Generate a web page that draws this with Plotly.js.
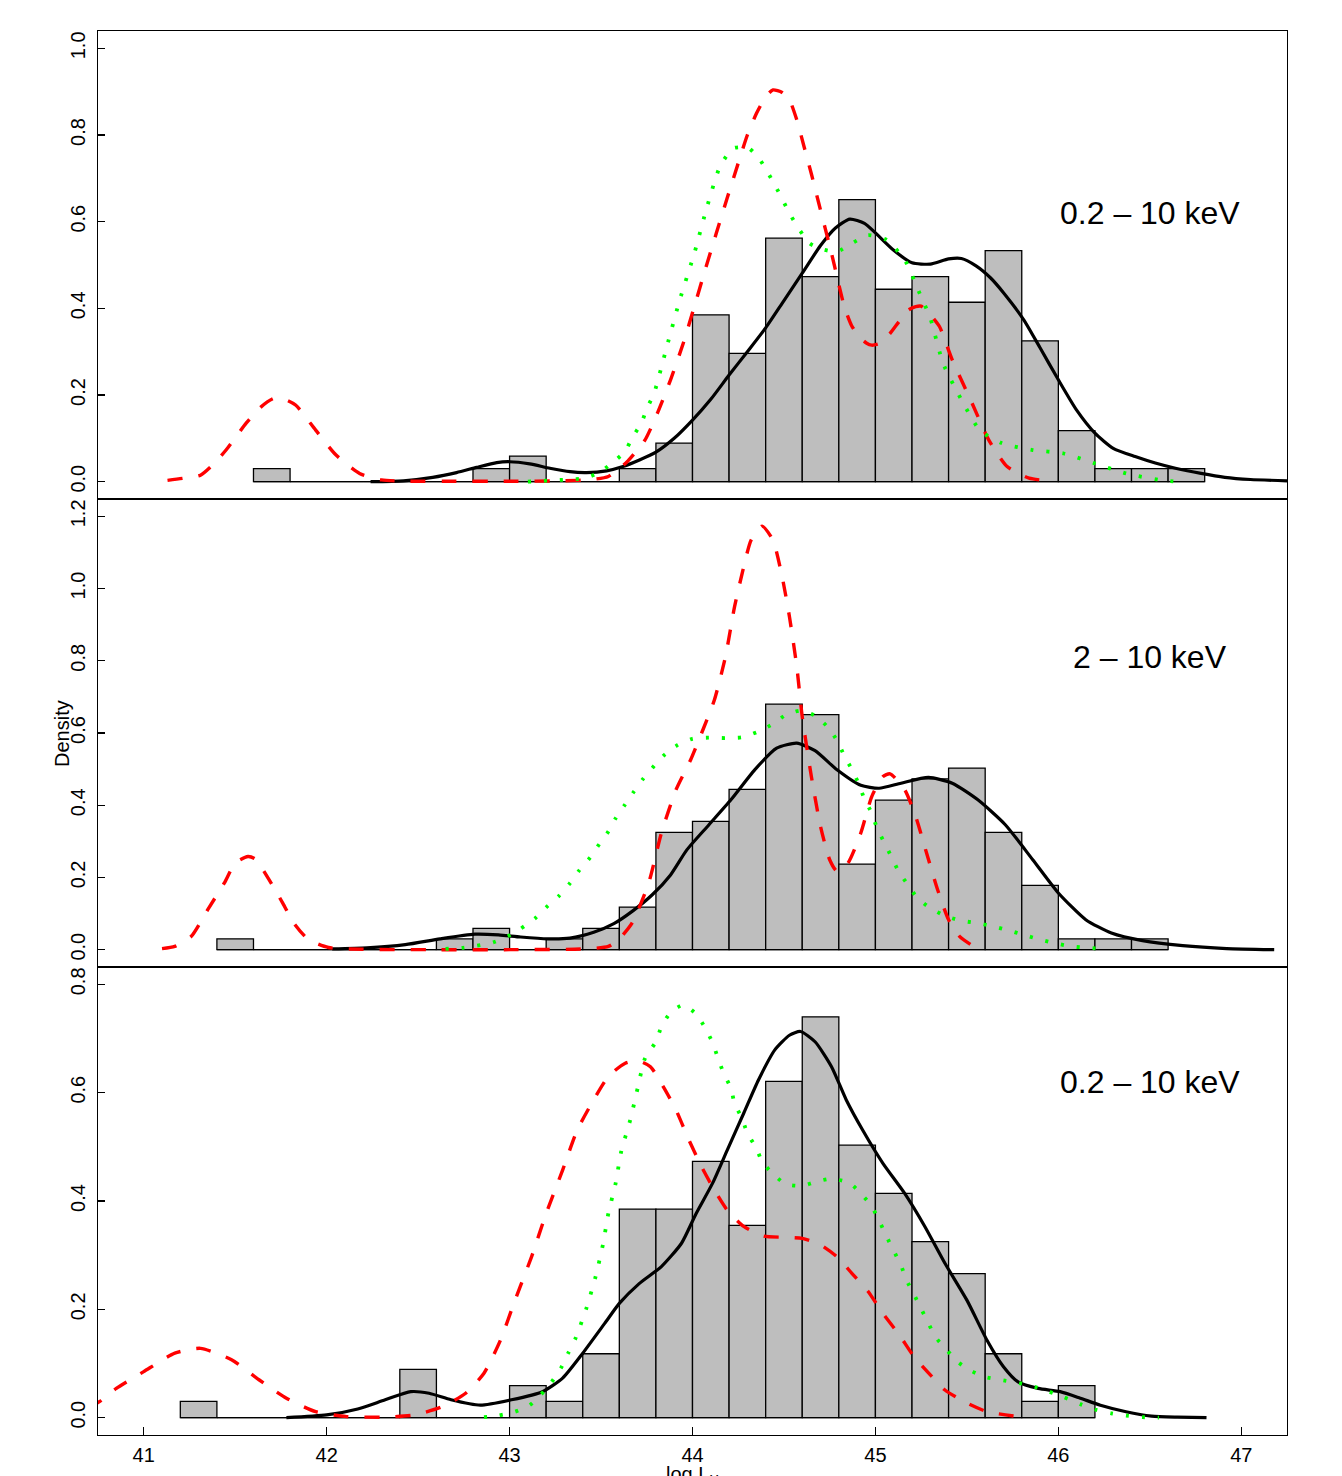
<!DOCTYPE html>
<html>
<head>
<meta charset="utf-8">
<script src="https://cdn.plot.ly/plotly-3.0.1.min.js"></script>
<style>
  html, body { margin: 0; padding: 0; background: #ffffff; }
  #chart { width: 1342px; height: 1476px; }
</style>
</head>
<body>
<div id="chart"></div>
<script>
// ---------------- DATA ----------------
// Histogram bins (left edges, bin width 0.2) and densities
const binWidth = 0.2;

const binsTop = [41.6, 41.8, 42.0, 42.2, 42.4, 42.6, 42.8, 43.0, 43.2, 43.4, 43.6, 43.8, 44.0, 44.2, 44.4, 44.6, 44.8, 45.0, 45.2, 45.4, 45.6, 45.8, 46.0, 46.2, 46.4, 46.6];
const densTop = [0.030, 0, 0, 0, 0, 0, 0.030, 0.059, 0, 0, 0.030, 0.089, 0.385, 0.296, 0.562, 0.473, 0.651, 0.444, 0.473, 0.414, 0.533, 0.325, 0.118, 0.030, 0.030, 0.030];

const binsMid = [41.4, 41.6, 41.8, 42.0, 42.2, 42.4, 42.6, 42.8, 43.0, 43.2, 43.4, 43.6, 43.8, 44.0, 44.2, 44.4, 44.6, 44.8, 45.0, 45.2, 45.4, 45.6, 45.8, 46.0, 46.2, 46.4];
const densMid = [0.030, 0, 0, 0, 0, 0, 0.030, 0.059, 0, 0.030, 0.059, 0.118, 0.325, 0.355, 0.444, 0.680, 0.651, 0.237, 0.414, 0.473, 0.503, 0.325, 0.178, 0.030, 0.030, 0.030];

const binsBot = [41.2, 41.4, 41.6, 41.8, 42.0, 42.2, 42.4, 42.6, 42.8, 43.0, 43.2, 43.4, 43.6, 43.8, 44.0, 44.2, 44.4, 44.6, 44.8, 45.0, 45.2, 45.4, 45.6, 45.8, 46.0];
const densBot = [0.030, 0, 0, 0, 0, 0, 0.089, 0, 0, 0.059, 0.030, 0.118, 0.385, 0.385, 0.473, 0.355, 0.621, 0.740, 0.503, 0.414, 0.325, 0.266, 0.118, 0.030, 0.059];

// Density curves: black solid, red dashed, green dotted
const topBlackX = [42.24, 42.42, 42.58, 42.71, 42.82, 42.93, 43.00, 43.11, 43.22, 43.33, 43.42, 43.53, 43.62, 43.71, 43.80, 43.90, 44.00, 44.10, 44.20, 44.30, 44.40, 44.50, 44.60, 44.70, 44.78, 44.86, 44.94, 45.00, 45.10, 45.20, 45.30, 45.40, 45.47, 45.55, 45.63, 45.70, 45.81, 45.90, 46.00, 46.10, 46.20, 46.30, 46.42, 46.53, 46.64, 46.78, 46.91, 47.05, 47.25];
const topBlackY = [0.000, 0.002, 0.010, 0.021, 0.033, 0.044, 0.046, 0.041, 0.031, 0.023, 0.021, 0.025, 0.035, 0.050, 0.068, 0.100, 0.142, 0.190, 0.246, 0.300, 0.355, 0.418, 0.481, 0.545, 0.585, 0.606, 0.596, 0.574, 0.534, 0.505, 0.502, 0.514, 0.515, 0.498, 0.470, 0.436, 0.374, 0.309, 0.235, 0.165, 0.112, 0.077, 0.058, 0.043, 0.031, 0.019, 0.010, 0.005, 0.002];

const topRedX = [41.13, 41.22, 41.31, 41.38, 41.45, 41.56, 41.64, 41.71, 41.77, 41.83, 41.94, 42.05, 42.18, 42.30, 42.45, 42.70, 43.00, 43.30, 43.45, 43.54, 43.64, 43.74, 43.81, 43.88, 43.95, 44.01, 44.07, 44.13, 44.19, 44.25, 44.30, 44.35, 44.40, 44.44, 44.49, 44.53, 44.57, 44.61, 44.65, 44.69, 44.76, 44.83, 44.87, 44.91, 44.95, 44.98, 45.03, 45.08, 45.13, 45.18, 45.22, 45.25, 45.30, 45.35, 45.42, 45.52, 45.62, 45.72, 45.84, 45.90];
const topRedY = [0.003, 0.008, 0.015, 0.040, 0.073, 0.135, 0.172, 0.192, 0.190, 0.177, 0.119, 0.062, 0.019, 0.004, 0.001, 0.001, 0.001, 0.002, 0.005, 0.012, 0.045, 0.096, 0.160, 0.235, 0.320, 0.404, 0.490, 0.573, 0.655, 0.735, 0.800, 0.850, 0.888, 0.904, 0.898, 0.881, 0.835, 0.773, 0.710, 0.643, 0.527, 0.404, 0.360, 0.335, 0.320, 0.315, 0.320, 0.342, 0.370, 0.396, 0.404, 0.405, 0.385, 0.358, 0.281, 0.189, 0.096, 0.035, 0.008, 0.004];

const topGreenX = [43.10, 43.23, 43.32, 43.41, 43.49, 43.56, 43.63, 43.67, 43.72, 43.75, 43.79, 43.86, 43.93, 44.01, 44.08, 44.15, 44.22, 44.27, 44.31, 44.37, 44.46, 44.54, 44.64, 44.72, 44.79, 44.88, 44.96, 45.06, 45.16, 45.23, 45.30, 45.37, 45.47, 45.57, 45.69, 45.86, 46.03, 46.20, 46.37, 46.55, 46.64];
const topGreenY = [0.000, 0.003, 0.005, 0.008, 0.021, 0.043, 0.069, 0.101, 0.135, 0.168, 0.204, 0.312, 0.419, 0.527, 0.635, 0.727, 0.769, 0.772, 0.769, 0.742, 0.677, 0.612, 0.550, 0.535, 0.531, 0.552, 0.569, 0.558, 0.512, 0.446, 0.377, 0.273, 0.189, 0.119, 0.089, 0.073, 0.065, 0.042, 0.019, 0.004, 0.000];

const midBlackX = [42.03, 42.22, 42.43, 42.62, 42.81, 42.94, 43.06, 43.21, 43.33, 43.46, 43.57, 43.67, 43.78, 43.88, 43.97, 44.09, 44.21, 44.34, 44.46, 44.57, 44.67, 44.79, 44.92, 45.02, 45.14, 45.29, 45.42, 45.56, 45.71, 45.86, 46.00, 46.15, 46.29, 46.46, 46.68, 46.92, 47.18];
const midBlackY = [0.002, 0.005, 0.014, 0.030, 0.043, 0.041, 0.035, 0.030, 0.032, 0.048, 0.072, 0.106, 0.152, 0.207, 0.277, 0.346, 0.415, 0.498, 0.558, 0.572, 0.551, 0.498, 0.455, 0.447, 0.461, 0.477, 0.461, 0.415, 0.346, 0.249, 0.157, 0.083, 0.046, 0.025, 0.011, 0.003, 0.000];

const midRedX = [41.10, 41.17, 41.26, 41.35, 41.44, 41.50, 41.57, 41.61, 41.68, 41.76, 41.82, 41.90, 42.01, 42.20, 42.60, 43.00, 43.40, 43.54, 43.60, 43.67, 43.76, 43.83, 43.91, 43.99, 44.05, 44.12, 44.18, 44.23, 44.28, 44.32, 44.38, 44.44, 44.49, 44.53, 44.57, 44.60, 44.65, 44.70, 44.75, 44.79, 44.85, 44.92, 44.98, 45.04, 45.08, 45.16, 45.22, 45.28, 45.34, 45.40, 45.46, 45.53];
const midRedY = [0.003, 0.009, 0.037, 0.111, 0.184, 0.240, 0.258, 0.251, 0.198, 0.129, 0.074, 0.028, 0.006, 0.001, 0.000, 0.000, 0.002, 0.009, 0.030, 0.074, 0.184, 0.323, 0.443, 0.526, 0.600, 0.692, 0.811, 0.950, 1.060, 1.134, 1.173, 1.134, 1.033, 0.922, 0.784, 0.645, 0.479, 0.341, 0.249, 0.217, 0.240, 0.323, 0.424, 0.479, 0.487, 0.443, 0.369, 0.267, 0.166, 0.083, 0.037, 0.011];

const midGreenX = [42.65, 42.74, 42.82, 42.91, 42.99, 43.06, 43.14, 43.20, 43.27, 43.33, 43.38, 43.44, 43.49, 43.54, 43.58, 43.63, 43.68, 43.73, 43.79, 43.85, 43.92, 44.00, 44.09, 44.18, 44.27, 44.36, 44.44, 44.51, 44.59, 44.67, 44.74, 44.79, 44.83, 44.87, 44.91, 44.94, 44.98, 45.01, 45.05, 45.09, 45.13, 45.18, 45.23, 45.30, 45.38, 45.46, 45.55, 45.64, 45.73, 45.81, 45.90, 45.99, 46.07, 46.16, 46.25];
const midGreenY = [0.002, 0.005, 0.011, 0.020, 0.037, 0.058, 0.087, 0.117, 0.149, 0.184, 0.219, 0.255, 0.292, 0.327, 0.364, 0.401, 0.438, 0.473, 0.509, 0.541, 0.567, 0.584, 0.587, 0.586, 0.588, 0.604, 0.625, 0.650, 0.662, 0.648, 0.616, 0.579, 0.537, 0.500, 0.458, 0.417, 0.378, 0.335, 0.295, 0.254, 0.214, 0.178, 0.143, 0.115, 0.094, 0.081, 0.074, 0.065, 0.053, 0.041, 0.028, 0.017, 0.009, 0.005, 0.002];

const botBlackX = [41.78, 42.00, 42.17, 42.32, 42.46, 42.56, 42.68, 42.84, 43.01, 43.18, 43.29, 43.40, 43.52, 43.60, 43.71, 43.83, 43.94, 44.02, 44.11, 44.19, 44.28, 44.36, 44.45, 44.53, 44.59, 44.67, 44.76, 44.84, 44.93, 45.04, 45.16, 45.27, 45.38, 45.50, 45.61, 45.70, 45.78, 45.89, 46.01, 46.12, 46.23, 46.37, 46.51, 46.65, 46.81];
const botBlackY = [0.000, 0.005, 0.016, 0.033, 0.048, 0.045, 0.033, 0.023, 0.033, 0.048, 0.073, 0.119, 0.174, 0.211, 0.248, 0.279, 0.322, 0.377, 0.433, 0.494, 0.562, 0.623, 0.679, 0.706, 0.713, 0.694, 0.648, 0.587, 0.531, 0.470, 0.414, 0.353, 0.285, 0.217, 0.143, 0.094, 0.066, 0.054, 0.048, 0.036, 0.023, 0.011, 0.003, 0.001, 0.000];

const botRedX = [40.70, 40.76, 40.85, 41.00, 41.17, 41.31, 41.48, 41.63, 41.78, 41.94, 42.11, 42.32, 42.48, 42.63, 42.76, 42.86, 42.95, 43.03, 43.12, 43.20, 43.29, 43.37, 43.46, 43.54, 43.63, 43.70, 43.77, 43.84, 43.91, 43.98, 44.05, 44.12, 44.19, 44.28, 44.39, 44.50, 44.60, 44.70, 44.79, 44.87, 44.96, 45.04, 45.13, 45.21, 45.30, 45.38, 45.50, 45.61, 45.78];
const botRedY = [0.018, 0.030, 0.054, 0.085, 0.119, 0.128, 0.107, 0.070, 0.036, 0.011, 0.002, 0.001, 0.005, 0.020, 0.045, 0.082, 0.143, 0.217, 0.297, 0.377, 0.457, 0.531, 0.587, 0.630, 0.654, 0.659, 0.648, 0.611, 0.568, 0.513, 0.463, 0.420, 0.383, 0.353, 0.335, 0.333, 0.331, 0.319, 0.297, 0.267, 0.233, 0.193, 0.153, 0.113, 0.079, 0.051, 0.027, 0.011, 0.002];

const botGreenX = [42.86, 42.94, 43.03, 43.11, 43.17, 43.23, 43.28, 43.32, 43.36, 43.42, 43.47, 43.51, 43.54, 43.58, 43.61, 43.66, 43.70, 43.74, 43.80, 43.83, 43.88, 43.95, 44.02, 44.07, 44.11, 44.14, 44.17, 44.21, 44.23, 44.27, 44.30, 44.35, 44.38, 44.44, 44.51, 44.60, 44.68, 44.76, 44.86, 44.92, 44.98, 45.02, 45.06, 45.10, 45.14, 45.17, 45.21, 45.25, 45.29, 45.33, 45.39, 45.45, 45.52, 45.60, 45.68, 45.77, 45.85, 45.95, 46.03, 46.12, 46.20, 46.29, 46.37, 46.46, 46.55];
const botGreenY = [0.001, 0.004, 0.011, 0.023, 0.042, 0.066, 0.091, 0.119, 0.146, 0.202, 0.260, 0.319, 0.377, 0.433, 0.491, 0.550, 0.608, 0.663, 0.694, 0.722, 0.748, 0.762, 0.745, 0.719, 0.692, 0.663, 0.636, 0.608, 0.580, 0.553, 0.525, 0.497, 0.473, 0.450, 0.431, 0.428, 0.436, 0.441, 0.433, 0.414, 0.390, 0.364, 0.335, 0.308, 0.281, 0.254, 0.228, 0.201, 0.174, 0.148, 0.125, 0.103, 0.087, 0.075, 0.070, 0.065, 0.059, 0.048, 0.038, 0.025, 0.015, 0.008, 0.004, 0.001, 0.000];

// Labels
const panelLabels = ["0.2 \u2013 10 keV", "2 \u2013 10 keV", "0.2 \u2013 10 keV"];
const xTickVals = [41, 42, 43, 44, 45, 46, 47];
const yTicksTop = [0, 0.2, 0.4, 0.6, 0.8, 1.0];
const yTicksMid = [0, 0.2, 0.4, 0.6, 0.8, 1.0, 1.2];
const yTicksBot = [0, 0.2, 0.4, 0.6, 0.8];
const yLabel = "Density";
const xLabel = "log L<sub>X</sub>";

// ---------------- BUILD ----------------
const FONT = "Liberation Sans, Arial, Helvetica, sans-serif";
const BAR_FILL = "#BEBEBE";

function histTraces(bins, dens, xa, ya) {
  const centers = bins.map(b => b + binWidth / 2);
  const last = bins[bins.length - 1] + binWidth;
  return [
    {
      type: "bar", x: centers, y: dens, width: binWidth,
      xaxis: xa, yaxis: ya,
      marker: { color: BAR_FILL, line: { color: "#000000", width: 1.3 } },
      hoverinfo: "skip", showlegend: false
    },
    {
      type: "scatter", mode: "lines", x: [bins[0], last], y: [0, 0],
      xaxis: xa, yaxis: ya,
      line: { color: "#000000", width: 1.4 },
      hoverinfo: "skip", showlegend: false
    }
  ];
}

function curveTraces(bx, by, rx, ry, gx, gy, xa, ya) {
  return [
    { type: "scatter", mode: "lines", x: bx, y: by, xaxis: xa, yaxis: ya,
      line: { color: "#000000", width: 3.2, shape: "spline", smoothing: 0.6 },
      hoverinfo: "skip", showlegend: false },
    { type: "scatter", mode: "lines", x: rx, y: ry, xaxis: xa, yaxis: ya,
      line: { color: "#FF0000", width: 3.4, dash: "15px,16px", shape: "spline", smoothing: 0.6 },
      hoverinfo: "skip", showlegend: false },
    { type: "scatter", mode: "lines", x: gx, y: gy, xaxis: xa, yaxis: ya,
      line: { color: "#00FF00", width: 3.8, dash: "3px,13px", shape: "spline", smoothing: 0.6 },
      hoverinfo: "skip", showlegend: false }
  ];
}

const data = []
  .concat(histTraces(binsTop, densTop, "x3", "y3"))
  .concat(curveTraces(topBlackX, topBlackY, topRedX, topRedY, topGreenX, topGreenY, "x3", "y3"))
  .concat(histTraces(binsMid, densMid, "x2", "y2"))
  .concat(curveTraces(midBlackX, midBlackY, midRedX, midRedY, midGreenX, midGreenY, "x2", "y2"))
  .concat(histTraces(binsBot, densBot, "x", "y"))
  .concat(curveTraces(botBlackX, botBlackY, botRedX, botRedY, botGreenX, botGreenY, "x", "y"));

const xRange = [40.75, 47.25];
const tickFont = { family: FONT, size: 20, color: "#000000" };

function yAxis(domain, range, ticks, anchor) {
  return {
    domain: domain, range: range, anchor: anchor,
    tickvals: ticks, ticktext: ticks.map(v => v.toFixed(1)),
    tickangle: -90, ticks: "inside", ticklen: 7, tickwidth: 1.4, tickcolor: "#000000",
    ticklabelstandoff: 4,
    showline: true, mirror: true, linecolor: "#000000", linewidth: 1.3,
    showgrid: false, zeroline: false, tickfont: tickFont, fixedrange: true
  };
}

function hiddenX(anchor) {
  return {
    anchor: anchor, matches: "x", range: xRange,
    showticklabels: false, ticks: "",
    showline: true, mirror: true, linecolor: "#000000", linewidth: 1.3,
    showgrid: false, zeroline: false, fixedrange: true
  };
}

const layout = {
  width: 1342, height: 1476,
  margin: { l: 98, r: 55, t: 31, b: 41 },
  paper_bgcolor: "#ffffff", plot_bgcolor: "#ffffff",
  font: { family: FONT, color: "#000000", size: 20 },
  showlegend: false,
  barmode: "overlay",
  xaxis: {
    anchor: "y", range: xRange, tickvals: xTickVals,
    ticks: "inside", ticklen: 8, tickwidth: 1.4, tickcolor: "#000000",
    ticklabelstandoff: 2,
    showline: true, mirror: true, linecolor: "#000000", linewidth: 1.3,
    showgrid: false, zeroline: false, tickfont: tickFont, fixedrange: true
  },
  xaxis2: hiddenX("y2"),
  xaxis3: hiddenX("y3"),
  yaxis: yAxis([0, 1 / 3], [-0.032, 0.832], yTicksBot, "x"),
  yaxis2: yAxis([1 / 3, 2 / 3], [-0.048, 1.248], yTicksMid, "x2"),
  yaxis3: yAxis([2 / 3, 1], [-0.04, 1.04], yTicksTop, "x3"),
  annotations: [
    { xref: "x3", yref: "y3", x: 46.5, y: 0.62, text: panelLabels[0], showarrow: false,
      xanchor: "center", yanchor: "middle", font: { family: FONT, size: 32, color: "#000000" } },
    { xref: "x2", yref: "y2", x: 46.5, y: 0.81, text: panelLabels[1], showarrow: false,
      xanchor: "center", yanchor: "middle", font: { family: FONT, size: 32, color: "#000000" } },
    { xref: "x", yref: "y", x: 46.5, y: 0.62, text: panelLabels[2], showarrow: false,
      xanchor: "center", yanchor: "middle", font: { family: FONT, size: 32, color: "#000000" } },
    { xref: "paper", yref: "paper", x: -0.0303, y: 0.5, text: yLabel, textangle: -90, showarrow: false,
      xanchor: "center", yanchor: "middle", font: { family: FONT, size: 20, color: "#000000" } },
    { xref: "paper", yref: "paper", x: 0.5, y: -0.0188, text: xLabel, showarrow: false,
      xanchor: "center", yanchor: "top", font: { family: FONT, size: 20, color: "#000000" } }
  ]
};

Plotly.newPlot("chart", data, layout, { staticPlot: true, displayModeBar: false });
</script>
</body>
</html>
